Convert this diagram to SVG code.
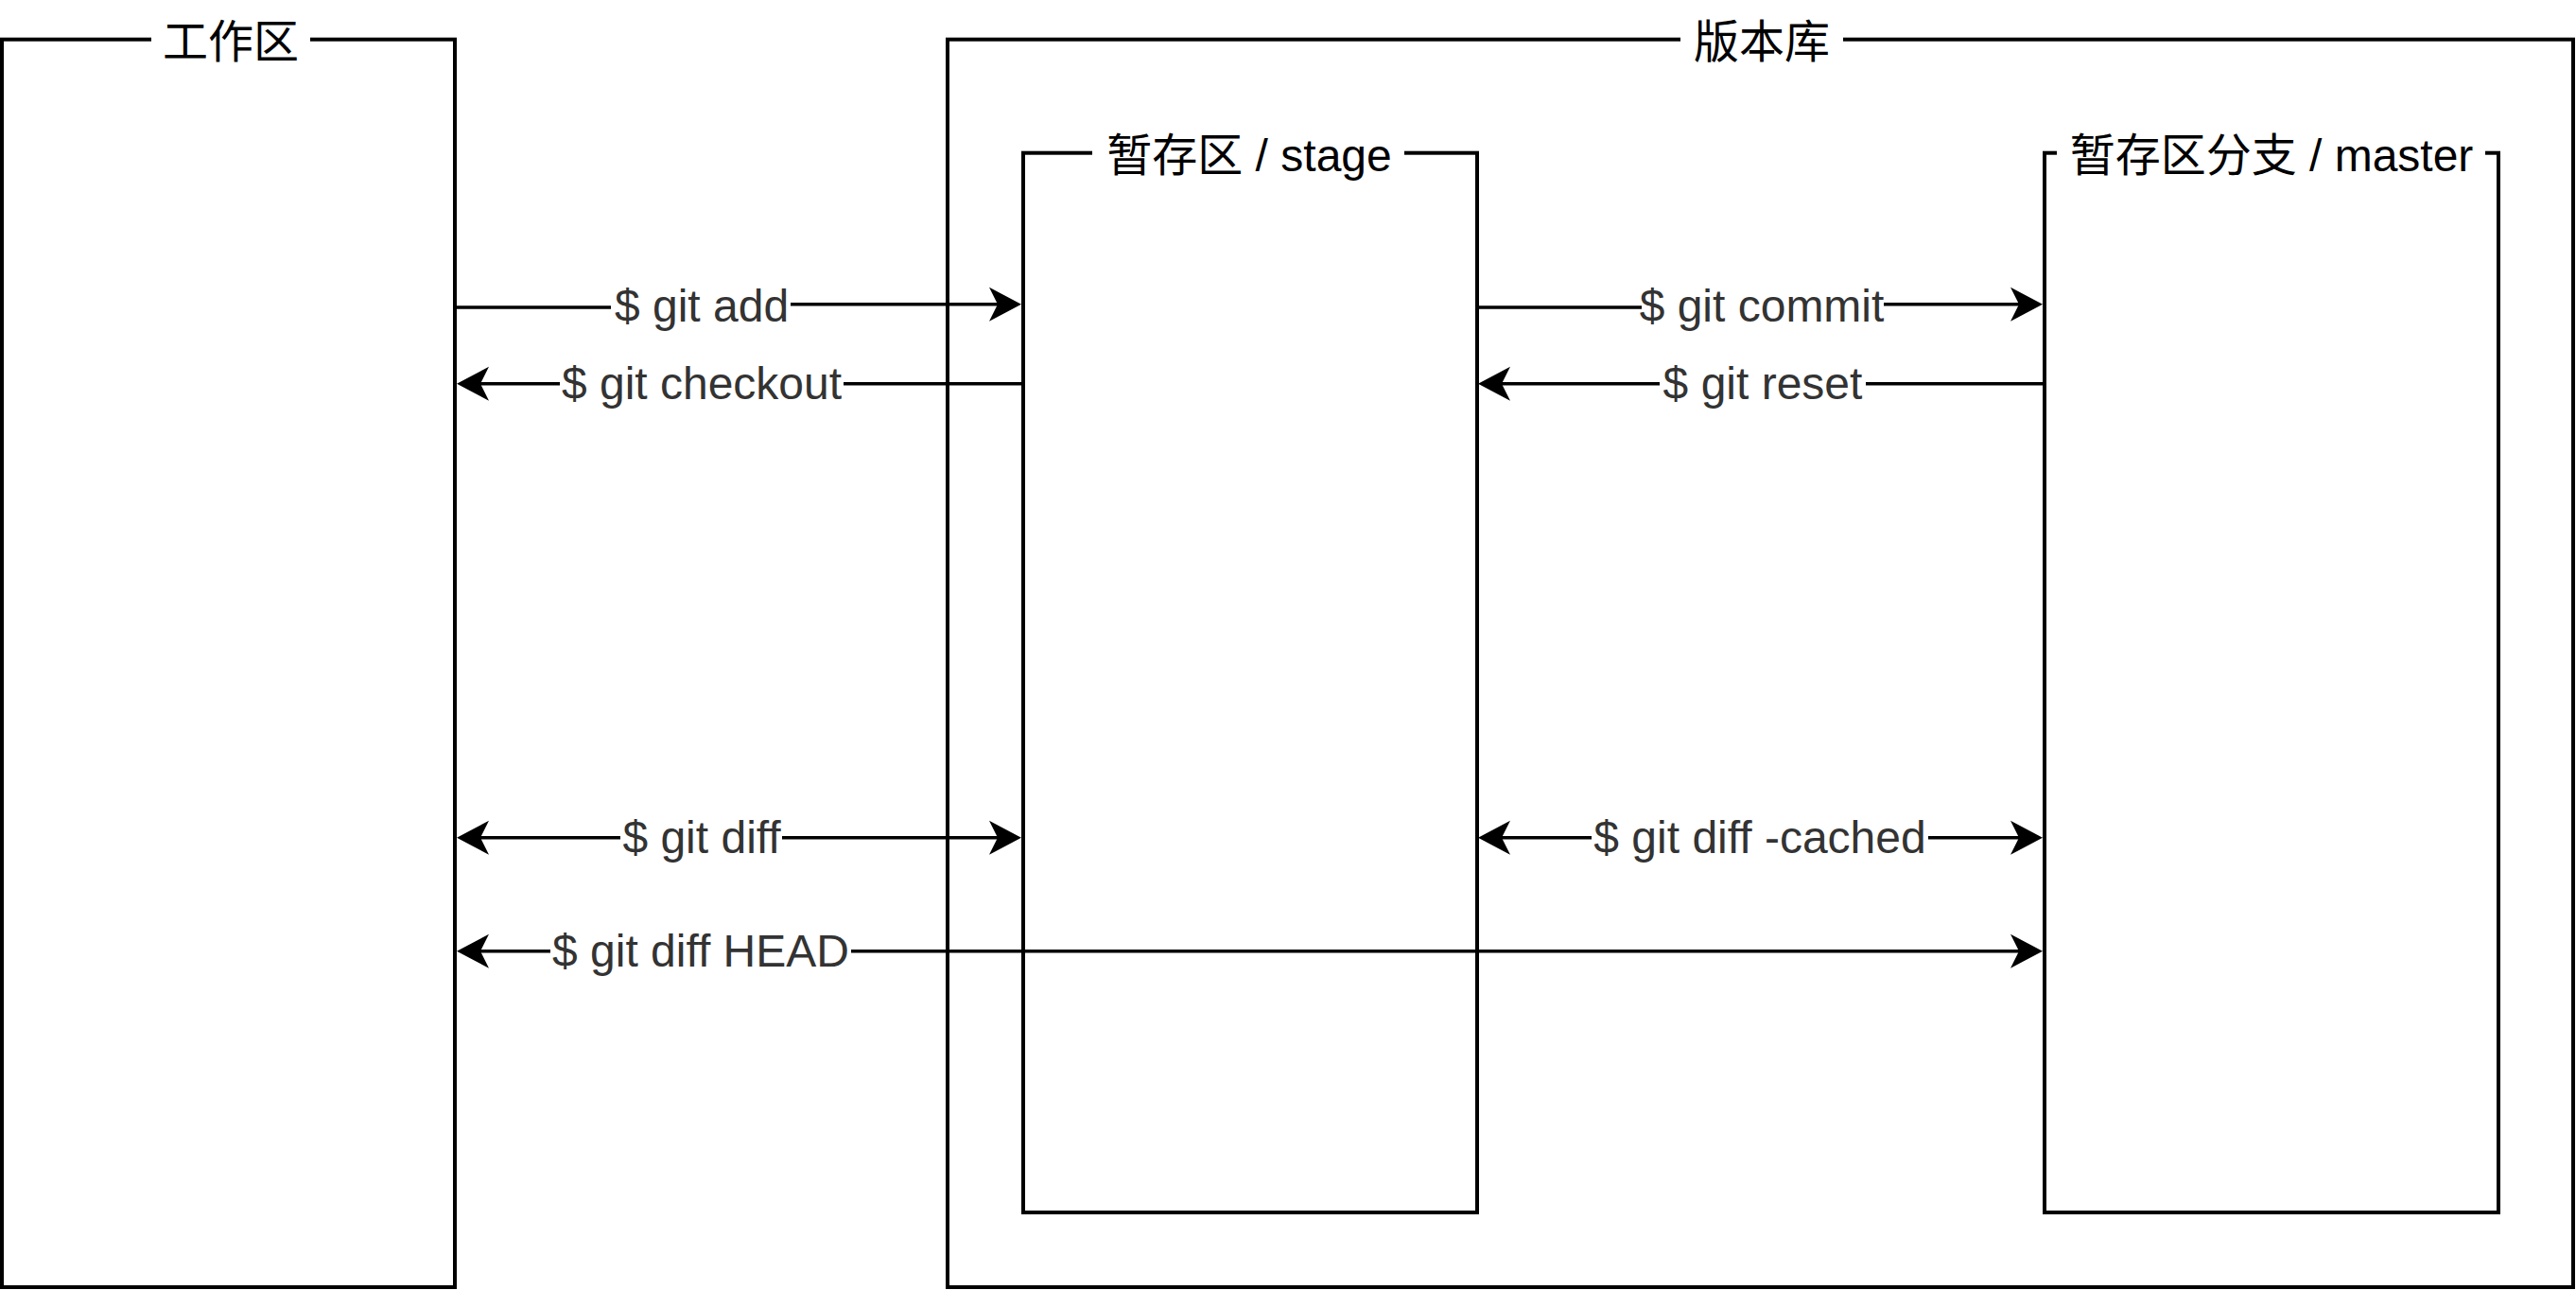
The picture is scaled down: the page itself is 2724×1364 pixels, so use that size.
<svg xmlns="http://www.w3.org/2000/svg" width="2724" height="1364" viewBox="0 0 2724 1364">
  <style>
    .box { fill: none; stroke: #000; stroke-width: 4; }
    .bg { fill: #fff; stroke: none; }
    .title { font-family: "Liberation Sans", "Noto Sans CJK SC", sans-serif; font-size: 48px; fill: #000; text-anchor: middle; }
    .edge { fill: none; stroke: #000; stroke-width: 3.5; }
    .lbl { font-family: "Liberation Sans", "Noto Sans CJK SC", sans-serif; font-size: 48px; fill: #333333; text-anchor: middle; }
  </style>
  <defs>
    <marker id="arr" viewBox="-10 -20 40 40" refX="0" refY="0" markerWidth="40" markerHeight="40" markerUnits="userSpaceOnUse" orient="auto-start-reverse">
      <path d="M-9,-18 L25,0 L-9,18 L0,0 Z" fill="#000"/>
    </marker>
  </defs>
  <rect width="2724" height="1364" fill="#fff"/>

  <g id="workspace">
    <rect class="box" x="2" y="41.7" width="479" height="1319.3"/>
    <rect class="bg" x="160" y="20" width="168" height="44"/>
    <text class="title" x="244" y="61">工作区</text>
  </g>

  <g id="repository">
    <rect class="box" x="1002" y="41.7" width="1719" height="1319.3"/>
    <rect class="bg" x="1777" y="20" width="172" height="44"/>
    <text class="title" x="1863" y="61">版本库</text>
  </g>

  <g id="stage">
    <rect class="box" x="1082" y="161.7" width="480" height="1120.3"/>
    <rect class="bg" x="1155" y="140" width="330" height="44"/>
    <text class="title" x="1321" y="181">暂存区 / stage</text>
  </g>

  <g id="master">
    <rect class="box" x="2162" y="161.7" width="480" height="1120.3"/>
    <rect class="bg" x="2175" y="140" width="453" height="44"/>
    <text class="title" x="2402" y="181">暂存区分支 / master</text>
  </g>

  <g id="connectors">
    <g id="edge-add">
      <path class="edge" d="M483,325 H742 V321.7 H1055" marker-end="url(#arr)"/>
      <rect class="bg" x="646" y="302" width="190" height="44"/>
      <text class="lbl" x="742" y="340">$ git add</text>
    </g>
    <g id="edge-checkout">
      <path class="edge" d="M1080,405.7 H508" marker-end="url(#arr)"/>
      <rect class="bg" x="592" y="384" width="300" height="44"/>
      <text class="lbl" x="742" y="422">$ git checkout</text>
    </g>
    <g id="edge-commit">
      <path class="edge" d="M1564,325 H1863 V321.7 H2135" marker-end="url(#arr)"/>
      <rect class="bg" x="1736" y="302" width="256" height="44"/>
      <text class="lbl" x="1863" y="340">$ git commit</text>
    </g>
    <g id="edge-reset">
      <path class="edge" d="M2160,405.7 H1588" marker-end="url(#arr)"/>
      <rect class="bg" x="1755" y="384" width="218" height="44"/>
      <text class="lbl" x="1864" y="422">$ git reset</text>
    </g>
    <g id="edge-diff">
      <path class="edge" d="M508,885.7 H1055" marker-start="url(#arr)" marker-end="url(#arr)"/>
      <rect class="bg" x="656" y="864" width="171" height="44"/>
      <text class="lbl" x="742" y="902">$ git diff</text>
    </g>
    <g id="edge-diff-cached">
      <path class="edge" d="M1588,885.7 H2135" marker-start="url(#arr)" marker-end="url(#arr)"/>
      <rect class="bg" x="1683" y="864" width="356" height="44"/>
      <text class="lbl" x="1861" y="902">$ git diff -cached</text>
    </g>
    <g id="edge-diff-head">
      <path class="edge" d="M508,1005.7 H2135" marker-start="url(#arr)" marker-end="url(#arr)"/>
      <rect class="bg" x="582" y="984" width="318" height="44"/>
      <text class="lbl" x="741" y="1022">$ git diff HEAD</text>
    </g>
  </g>
</svg>
